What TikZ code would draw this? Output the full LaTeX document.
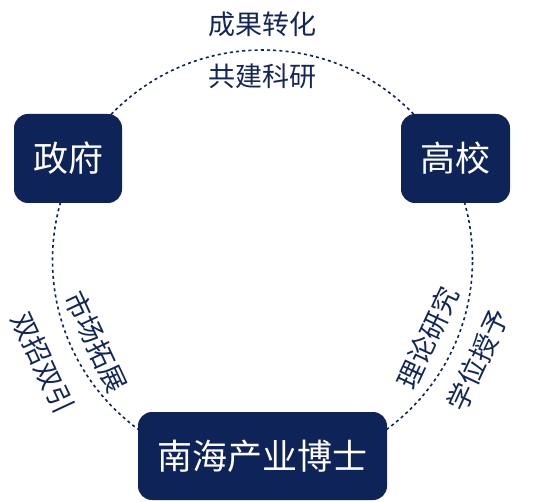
\documentclass[tikz,border=0pt]{standalone}
\usepackage{fontspec}
\setmainfont{Noto Sans CJK SC}
\definecolor{navy}{RGB}{14,35,87}
\definecolor{labnavy}{RGB}{20,38,88}
\begin{document}
\begin{tikzpicture}[x=1pt,y=-1pt,
  box/.style={fill=navy,rounded corners=14pt,text=white,font=\fontsize{35}{35}\selectfont,inner sep=0pt,anchor=center},
  lab/.style={text=labnavy,font=\fontsize{27}{27}\selectfont,inner sep=0pt,anchor=center},
  ring/.style={draw=navy,line width=1.6pt,dash pattern=on 3pt off 3.2pt}]
\useasboundingbox (0,0) rectangle (537,502);
\coordinate (c) at (262.5,260);
\draw[ring] (c) circle (210pt);
\node[box,minimum width=108pt,minimum height=89pt] (gov) at (68,158.5) {政府};
\node[box,minimum width=109pt,minimum height=89pt] (uni) at (455.5,158.5) {高校};
\node[box,minimum width=249pt,minimum height=88pt] (nh) at (262.5,456) {南海产业博士};
\node[lab] (l1) at (262,24) {成果转化};
\node[lab] (l2) at (262,76) {共建科研};
\node[lab,rotate=-65] (l3) at (96,342) {市场拓展};
\node[lab,rotate=-65] (l4) at (43,363) {双招双引};
\node[lab,rotate=65] (l5) at (428,338) {理论研究};
\node[lab,rotate=65] (l6) at (478,360) {学位授予};
\end{tikzpicture}
\end{document}
